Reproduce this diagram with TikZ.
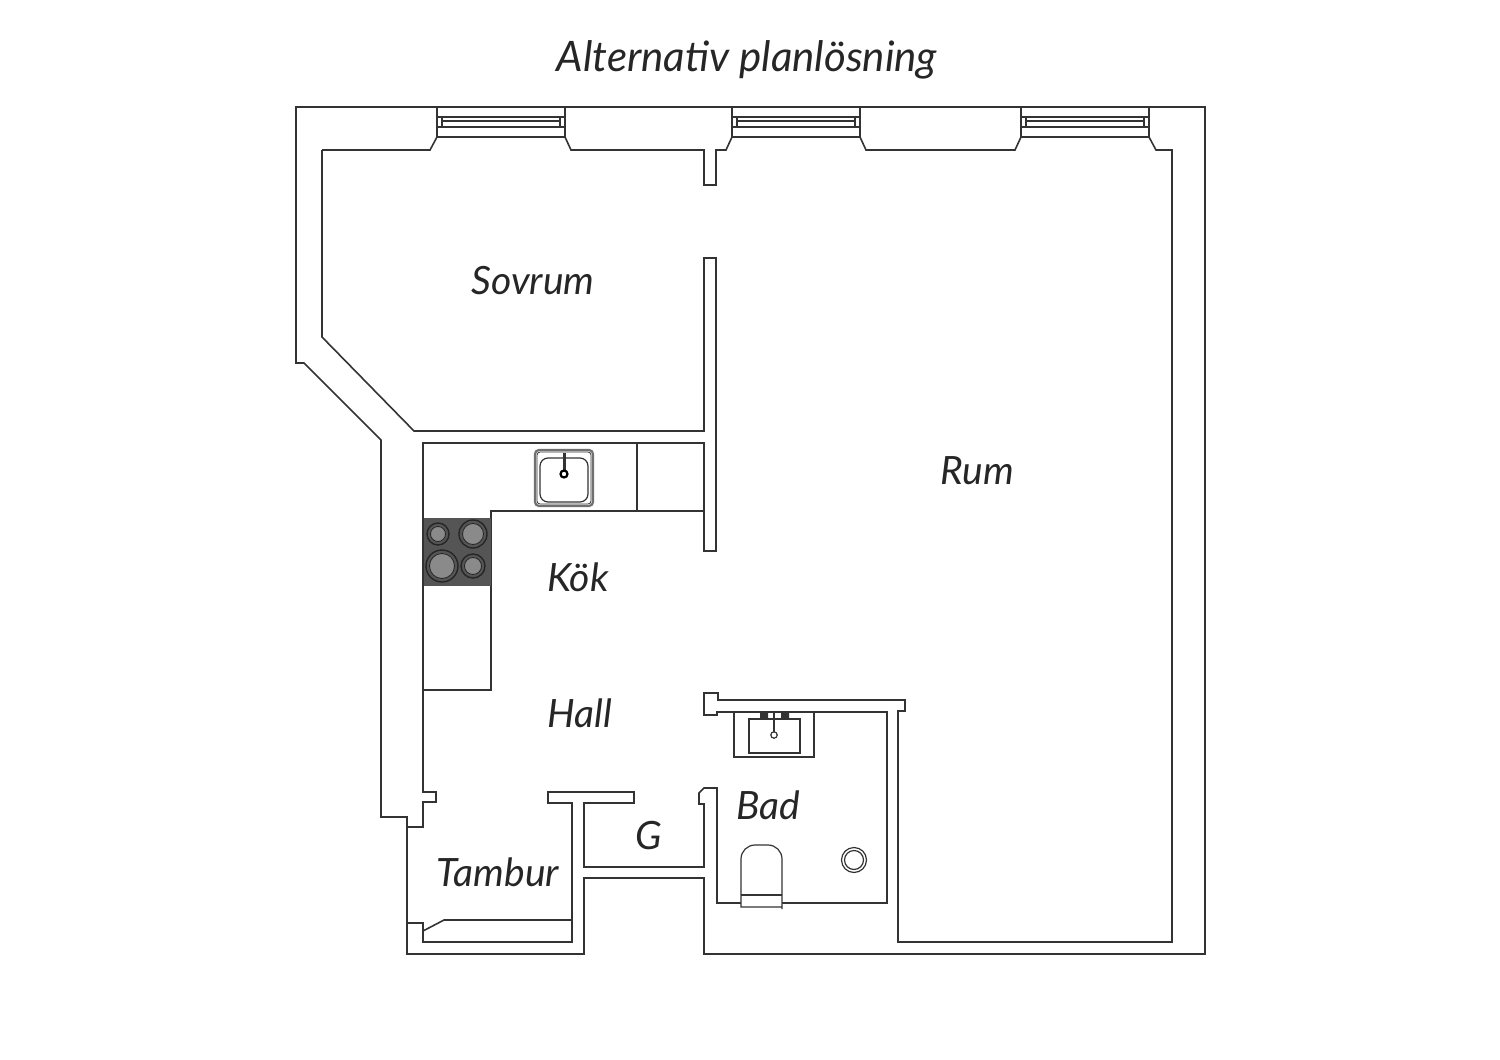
\documentclass[tikz,border=0pt]{standalone}
\usepackage{fontspec}
\setmainfont{Lato}
\usepackage{tikz}
\definecolor{wallink}{HTML}{333333}
\definecolor{hobgray}{HTML}{555555}
\definecolor{platecol}{HTML}{8A8A8A}
\begin{document}
\begin{tikzpicture}[
    x=0.5pt, y=-0.5pt,
    wall/.style={draw=wallink, line width=0.8pt, line join=miter},
    thin wall/.style={draw=wallink, line width=0.6pt},
    room/.style={font=\fontsize{19.5}{22}\selectfont\itshape, text=black!85, inner sep=0pt},
    plate/.style={draw=black!85, fill=hobgray, line width=0.7pt},
    plate top/.style={draw=black!85, fill=platecol, line width=0.4pt}
]
  \useasboundingbox (0,0) rectangle (1500,1060);

  % Outer walls
  \draw[wall] (437,107) -- (296,107) -- (296,363) -- (304,363) -- (381,440) -- (381,817)
    -- (407,817) -- (407,954) -- (584,954) -- (584,878) -- (704,878) -- (704,954)
    -- (1205,954) -- (1205,107) -- (437,107);

  % Rooms
  \draw[wall] (322,150) -- (430,150) -- (437,137);
  \draw[wall] (565,137) -- (571,150) -- (704,150) -- (704,185) -- (716,185) -- (716,150) -- (726,150) -- (732,137);
  \draw[wall] (860,137) -- (866,150) -- (1015,150) -- (1021,137);
  \draw[wall] (1149,137) -- (1156,150) -- (1172,150) -- (1172,942) -- (898,942) -- (898,711)
    -- (905,711) -- (905,700) -- (718,700) -- (718,693) -- (704,693) -- (704,715) -- (717,715)
    -- (717,712) -- (887,712) -- (887,903) -- (717,903) -- (717,788) -- (704,788) -- (699,793)
    -- (699,804) -- (704,804) -- (704,867) -- (584,867) -- (584,803) -- (634,803) -- (634,792)
    -- (548,792) -- (548,803) -- (572,803) -- (572,942) -- (423,942) -- (423,923) -- (407,923);
  \draw[wall] (407,827) -- (423,827) -- (423,802) -- (436,802) -- (436,792) -- (423,792)
    -- (423,443) -- (704,443) -- (704,551) -- (716,551) -- (716,258) -- (704,258) -- (704,431)
    -- (414,431) -- (322,337) -- (322,150);
  \draw[wall] (423,931) -- (444,920) -- (572,920);

  % Windows
  \foreach \wx in {437,732,1021} {
    \begin{scope}[shift={(\wx,0)}]
      \draw[wall] (0,107) rectangle (128,137);
      \draw[wall] (0,117) -- (128,117) (0,127) -- (128,127);
      \draw[wall] (5,117) -- (5,127) (123,117) -- (123,127);
      \draw[thin wall] (5,121) -- (123,121);
    \end{scope}
  }

  % Kitchen
  \draw[thin wall] (637,443) -- (637,511);
  \draw[thin wall] (704,511) -- (491,511) -- (491,690) -- (424,690);
  \fill[hobgray] (424,518) rectangle (491,586);
  \foreach \px/\py/\pr in {438/534/11,473/534/14,442/566/16,473/566/12} {
    \draw[plate] (\px,\py) circle[radius=\pr];
    \draw[plate top] (\px,\py) circle[radius=\pr-3.5];
  }
  \draw[draw=wallink!70, line width=1.1pt, rounded corners=2pt] (535,450) rectangle (593,506);
  \draw[thin wall, line width=0.4pt, rounded corners=1.5pt] (537,452) rectangle (591,504);
  \draw[thin wall, rounded corners=4pt] (540,458) rectangle (588,502);
  \draw[line width=1.5pt, draw=wallink] (564,453) -- (564,472);
  \draw[draw=black, fill=white, line width=1.1pt] (564,474) circle[radius=3.5];

  % Bathroom
  \draw[thin wall] (734,712) -- (734,757) -- (814,757) -- (814,712);
  \draw[thin wall] (749,719) rectangle (800,753);
  \fill[wallink] (760,712) rectangle (768,719) (781,712) rectangle (789,719);
  \draw[line width=1pt, draw=wallink] (774,713) -- (774,733);
  \draw[thin wall, fill=white] (774,735) circle[radius=3.2];
  \draw[thin wall, fill=white] (741,907) [sharp corners] -- (741,895) [rounded corners=7pt] -- (741,845)
    -- (782,845) -- (782,895) [sharp corners] -- (782,907) -- cycle;
  \draw[thin wall] (741,895) -- (782,895);
  \draw[thin wall] (854,860) circle[radius=12.5] (854,860) circle[radius=9.5];

  % Labels
  \node[room, font=\fontsize{21}{24}\selectfont\itshape] (title) at (747,60) {Alternativ planlösning};
  \node[room] (sovrum) at (533,281) {Sovrum};
  \node[room] (rum) at (977,471) {Rum};
  \node[room] (kok) at (578,577) {Kök};
  \node[room] (hall) at (580,713) {Hall};
  \node[room] (bad) at (768,805) {Bad};
  \node[room] (garderob) at (649,836) {G};
  \node[room] (tambur) at (498,872) {Tambur};
\end{tikzpicture}
\end{document}
